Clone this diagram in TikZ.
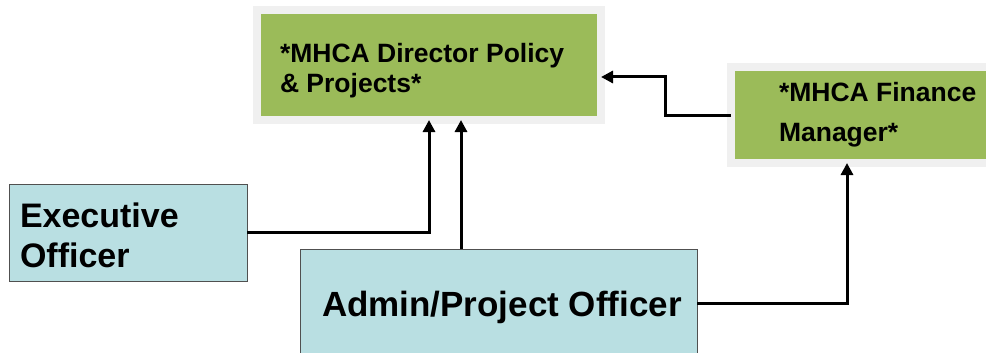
\documentclass[tikz,border=0pt]{standalone}
\usepackage{fontspec}
\setmainfont{Liberation Sans}
\usetikzlibrary{arrows.meta,calc}
\definecolor{boxgreen}{HTML}{9BBB59}
\definecolor{framegray}{HTML}{F0F0F0}
\definecolor{boxblue}{HTML}{B9DFE2}
\definecolor{edgegray}{HTML}{505050}
\begin{document}
\begin{tikzpicture}[x=1pt,y=-1pt,
  greenbox/.style={rectangle, fill=boxgreen, draw=framegray, line width=8pt,
    inner sep=0pt, outer sep=0pt},
  bluebox/.style={rectangle, fill=boxblue, draw=edgegray, line width=1pt,
    inner sep=0pt, outer sep=0pt},
  boxtext/.style={inner sep=0pt, outer sep=0pt, anchor=base west, font=\bfseries},
  conn/.style={line width=3pt, -{Triangle[length=12pt,width=12pt]}}]
\useasboundingbox (0,0) rectangle (986,353);

% boxes
\node[greenbox, minimum width=344pt, minimum height=110pt] (dir) at (429,65) {};
\node[greenbox, minimum width=269pt, minimum height=96pt] (fin) at (865.5,115) {};
\node[bluebox, minimum width=238pt, minimum height=97pt] (exec) at (128,232.5) {};
\node[bluebox, minimum width=397pt, minimum height=108pt] (admin) at (498.5,303) {};

% box texts
\node[boxtext] (dirtext) at (280,63)
  {\parbox[t]{310pt}{\raggedright\fontsize{26.5}{30}\selectfont *MHCA Director Policy\\\& Projects*}};
\node[boxtext] (fintext) at (779,102)
  {\parbox[t]{210pt}{\raggedright\fontsize{26.5}{40}\selectfont *MHCA Finance\\Manager*}};
\node[boxtext] (exectext) at (20,227)
  {\parbox[t]{220pt}{\raggedright\fontsize{34}{40}\selectfont Executive\\Officer}};
\node[boxtext] (admintext) at (322,316)
  {\fontsize{35}{40}\selectfont Admin/Project Officer};

% reporting lines
\coordinate (dirin) at ($(dir.south)+(32,0)$);
\coordinate (finin) at ($(fin.south)+(-18.5,0)$);
\draw[conn] (fin.west) -- ++(-66,0) |- ($(dir.east)+(0,12)$);
\draw[conn] (exec.east) -| (dir.south);
\draw[conn] (dirin |- admin.north) -- (dirin);
\draw[conn] (admin.east) -| (finin);
\end{tikzpicture}
\end{document}
